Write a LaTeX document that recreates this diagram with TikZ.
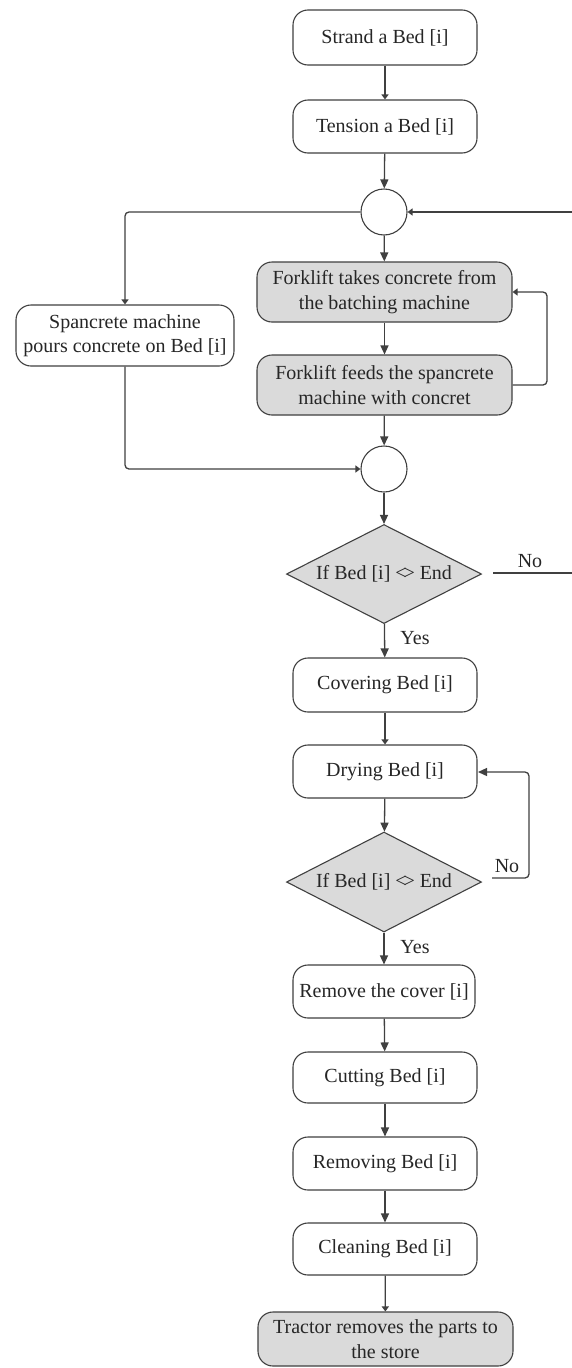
\documentclass[tikz,border=0pt]{standalone}
\usepackage{fontspec}
\setmainfont{Liberation Serif}
\usetikzlibrary{shapes.geometric,arrows.meta}
\definecolor{edge}{HTML}{404040}
\definecolor{shade}{HTML}{DADADA}
\definecolor{ink}{HTML}{262626}
\newcommand{\notequal}{<\kern-0.16em>}
\begin{document}
\begin{tikzpicture}[x=1pt,y=1pt,
  every node/.style={font=\fontsize{20}{24.5}\selectfont, text=ink},
  proc/.style={draw=edge, line width=1.1pt, rounded corners=15pt, align=center,
    inner sep=0pt, minimum height=54pt, minimum width=184pt},
  shaded/.style={proc, fill=shade, minimum width=255pt, minimum height=60pt},
  junction/.style={circle, draw=edge, line width=1.1pt, minimum size=46pt, inner sep=0pt},
  decision/.style={diamond, draw=edge, fill=shade, line width=1.1pt, inner sep=0pt,
    aspect=2, minimum width=195pt, minimum height=99pt},
  flow/.style={draw=edge, line width=1.3pt, rounded corners=4pt,
    -{Triangle[length=9pt,width=8pt]}},
  tick/.style={draw=edge, line width=1.3pt, rounded corners=4pt,
    -{Triangle[length=5pt,width=7pt]}},
  wire/.style={draw=edge, line width=1.3pt, rounded corners=4pt},
  lbl/.style={inner sep=0pt}
]
\fill[white] (0,0) rectangle (572,-1368);
\useasboundingbox (0,0) rectangle (572,-1368);

% main column
\node[proc, minimum height=55pt] (strand) at (385,-37.5) {Strand a Bed [i]};
\node[proc, minimum height=53pt] (tension) at (385,-126.5) {Tension a Bed [i]};
\node[junction] (c1) at (384,-212) {};
\node[shaded] (fork1) at (384.5,-292) {Forklift takes concrete from\\the batching machine};
\node[shaded] (fork2) at (384.5,-385) {Forklift feeds the spancrete\\machine with concret};
\node[proc, minimum width=218pt, minimum height=61pt] (span) at (125,-335.5)
  {Spancrete machine\\pours concrete on Bed [i]};
\node[junction] (c2) at (384,-469) {};
\node[decision] (d1) at (384,-574) {If Bed [i] \notequal{} End};
\node[proc] (cover) at (385,-685) {Covering Bed [i]};
\node[proc, minimum height=53pt] (dry) at (385,-771.5) {Drying Bed [i]};
\node[decision, minimum height=100pt] (d2) at (384,-882) {If Bed [i] \notequal{} End};
\node[proc, minimum width=182pt, minimum height=53pt] (remove) at (384,-991.5) {Remove the cover [i]};
\node[proc, minimum height=51pt] (cut) at (385,-1077.5) {Cutting Bed [i]};
\node[proc, minimum height=53pt] (removing) at (385,-1163.5) {Removing Bed [i]};
\node[proc, minimum height=52pt] (clean) at (385,-1249) {Cleaning Bed [i]};
\node[shaded, minimum height=54pt] (tractor) at (385.5,-1339) {Tractor removes the parts to\\the store};

% labels
\node[lbl] (no1) at (530,-561) {No};
\node[lbl] (yes1) at (415,-638) {Yes};
\node[lbl] (no2) at (507,-866) {No};
\node[lbl] (yes2) at (415,-947) {Yes};

% loose ends running off to the right
\coordinate (backin) at (572,-212);
\coordinate (no1end) at (572,-573);
\coordinate (no1start) at (493,-573);
\coordinate (no2start) at (492,-878);
\coordinate (dryin) at (478,-772);

% straight flow
\draw[tick] (strand) -- (tension);
\draw[flow] (tension) -- (c1);
\draw[flow] (c1) -- (fork1);
\draw[flow] (fork1) -- (fork2);
\draw[flow] (fork2) -- (c2);
\draw[flow] (c2) -- (d1);
\draw[flow] (d1) -- (cover);
\draw[tick] (cover) -- (dry);
\draw[flow] (dry) -- (d2);
\draw[flow] (d2) -- (remove);
\draw[flow] (remove) -- (cut);
\draw[flow] (cut) -- (removing);
\draw[flow] (removing) -- (clean);
\draw[tick] (clean) -- (tractor);

% side branch through the spancrete machine
\draw[tick] (c1.west) -| (span.north);
\draw[tick] (span.south) |- (c2.west);

% forklift loop
\draw[tick] (fork2.east) -- (547,-385) -- (547,-292) -- (fork1.east);

% returns
\draw[tick] (backin) -- (c1.east);
\draw[wire] (no1start) -- (no1end);
\draw[flow] (no2start) -- (529,-878) -- (529,-772) -- (dryin);
\end{tikzpicture}
\end{document}
